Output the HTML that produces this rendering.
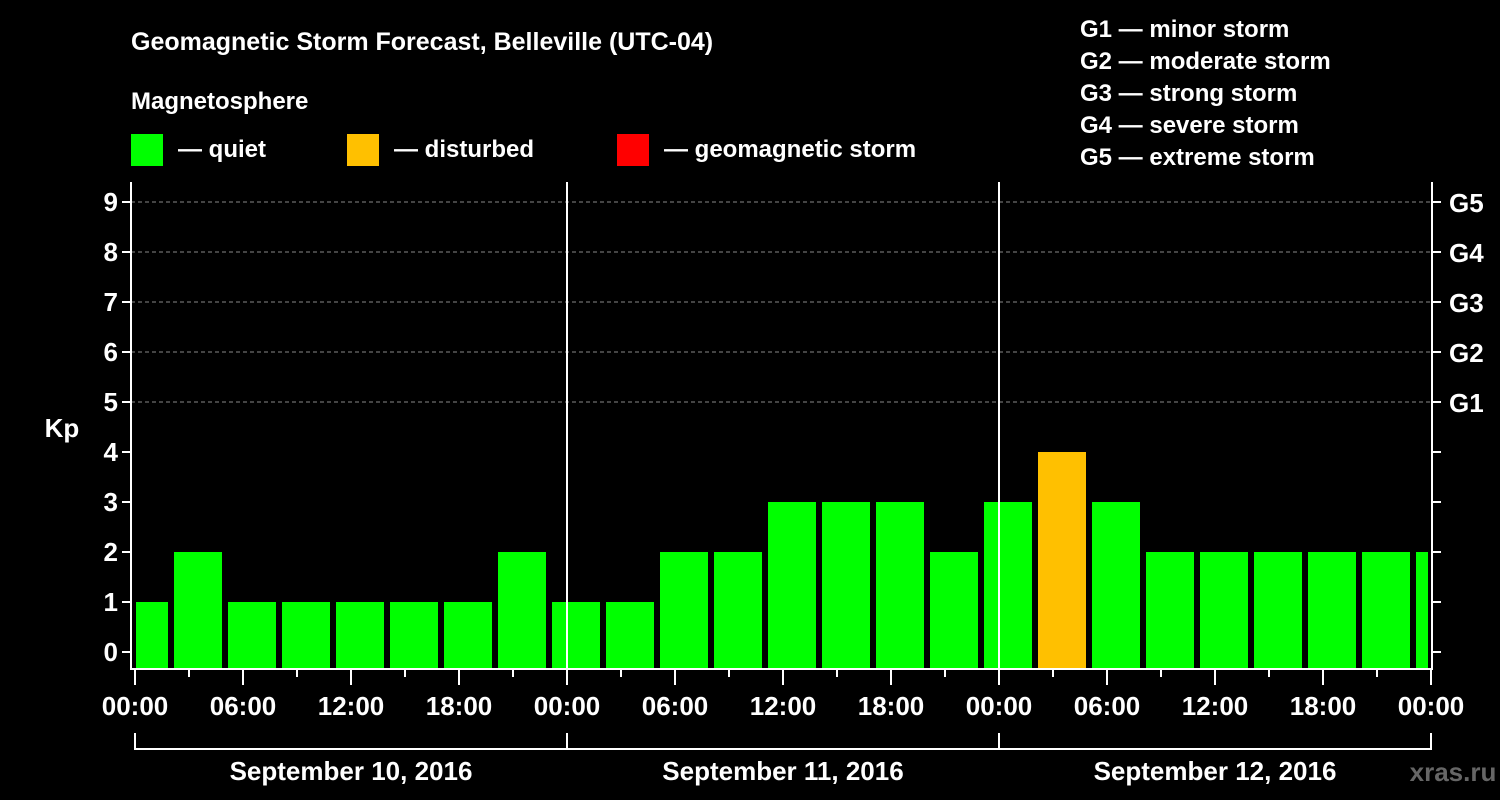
<!DOCTYPE html>
<html><head><meta charset="utf-8"><style>
html,body{margin:0;padding:0;background:#000;}
svg{display:block;font-family:"Liberation Sans",Arial,sans-serif;font-weight:bold;}
</style></head><body>
<svg width="1500" height="800" viewBox="0 0 1500 800">
<rect width="1500" height="800" fill="#000"/>
<text x="131" y="50" fill="#fff" font-size="25">Geomagnetic Storm Forecast, Belleville (UTC-04)</text>
<text x="131" y="109" fill="#fff" font-size="24">Magnetosphere</text>
<g><rect x="131" y="134" width="32" height="32" fill="#00ff00"/><text x="178" y="157" fill="#fff" font-size="24">— quiet</text></g>
<g><rect x="347" y="134" width="32" height="32" fill="#ffc000"/><text x="394" y="157" fill="#fff" font-size="24">— disturbed</text></g>
<g><rect x="617" y="134" width="32" height="32" fill="#ff0000"/><text x="664" y="157" fill="#fff" font-size="24">— geomagnetic storm</text></g>
<g fill="#fff" font-size="24">
<text x="1080" y="37">G1 — minor storm</text>
<text x="1080" y="69">G2 — moderate storm</text>
<text x="1080" y="101">G3 — strong storm</text>
<text x="1080" y="133">G4 — severe storm</text>
<text x="1080" y="165">G5 — extreme storm</text>
</g>
<text x="62" y="437" fill="#fff" font-size="26" text-anchor="middle">Kp</text>
<g id="grid"></g>
<g id="bars"></g>
<g id="axes"></g>
<text x="1453" y="781" fill="#666" font-size="26" text-anchor="middle">xras.ru</text>
</svg>
<script>
const kpValues=[1,2,1,1,1,1,1,2, 1,1,2,2,3,3,3,2, 3,4,3,2,2,2,2,2,2];
const dayLabels=["September 10, 2016","September 11, 2016","September 12, 2016"];
const hourLabels=["00:00","06:00","12:00","18:00"];
const stormLabels=["G1","G2","G3","G4","G5"];
const NS="http://www.w3.org/2000/svg";
const X0=135, PX_H=18, Y0=652, PX_K=50, LEFT=131, RIGHT=1432, TOP=182, BOT=668;
const xs=h=>X0+h*PX_H, ys=k=>Y0-k*PX_K;
function mk(tag,attrs,parent,text){const e=document.createElementNS(NS,tag);for(const k in attrs)e.setAttribute(k,attrs[k]);if(text!=null)e.textContent=text;parent.appendChild(e);return e;}
const grid=document.getElementById('grid'),bars=document.getElementById('bars'),axes=document.getElementById('axes');
for(let k=5;k<=9;k++){const l=mk('line',{x1:LEFT,x2:RIGHT,y1:ys(k),y2:ys(k),stroke:'#888','stroke-width':1,'stroke-dasharray':'4,3'},grid);

}
kpValues.forEach((v,i)=>{
  let x1=xs(3*i)-15, x2=x1+48;
  x1=Math.max(x1,LEFT+5); x2=Math.min(x2,RIGHT-4);
  const col=v>=5?'#ff0000':(v>=4?'#ffc000':'#00ff00');
  const r=mk('rect',{x:x1,y:ys(v),width:x2-x1,height:BOT-ys(v),fill:col},bars);
  
  
});
// frame
const fr=mk('path',{d:`M${LEFT} ${TOP}V${BOT+1}H${RIGHT}V${TOP}`,stroke:'#fff','stroke-width':2,fill:'none'},axes);


for(let d=1;d<3;d++){const l=mk('line',{x1:xs(24*d),x2:xs(24*d),y1:TOP,y2:BOT,stroke:'#fff','stroke-width':2},axes);

}
for(let k=0;k<=9;k++){
  mk('line',{x1:LEFT-9,x2:LEFT,y1:ys(k),y2:ys(k),stroke:'#fff','stroke-width':2},axes);
  mk('line',{x1:RIGHT,x2:RIGHT+9,y1:ys(k),y2:ys(k),stroke:'#fff','stroke-width':2},axes);
  const t=mk('text',{x:LEFT-13,y:ys(k)+9,fill:'#fff','font-size':26,'text-anchor':'end'},axes,String(k));
  
  
  if(k>=5){const g=mk('text',{x:1449,y:ys(k)+10,fill:'#fff','font-size':26},axes,stormLabels[k-5]);
  
  }
}
for(let h=0;h<=72;h+=3){
  const major=h%6===0;
  mk('line',{x1:xs(h),x2:xs(h),y1:BOT,y2:BOT+(major?17:9),stroke:'#fff','stroke-width':2},axes);
  if(major){const t=mk('text',{x:xs(h),y:715,fill:'#fff','font-size':26,'text-anchor':'middle'},axes,hourLabels[(h%24)/6]);
  
  }
}
const br=mk('path',{d:`M${xs(0)} 733V749H${xs(72)}V733M${xs(24)} 733V749M${xs(48)} 733V749`,stroke:'#fff','stroke-width':2,fill:'none'},axes);


dayLabels.forEach((d,i)=>{const t=mk('text',{x:xs(24*i+12),y:780,fill:'#fff','font-size':26,'text-anchor':'middle'},axes,d);

});
</script>
</body></html>
